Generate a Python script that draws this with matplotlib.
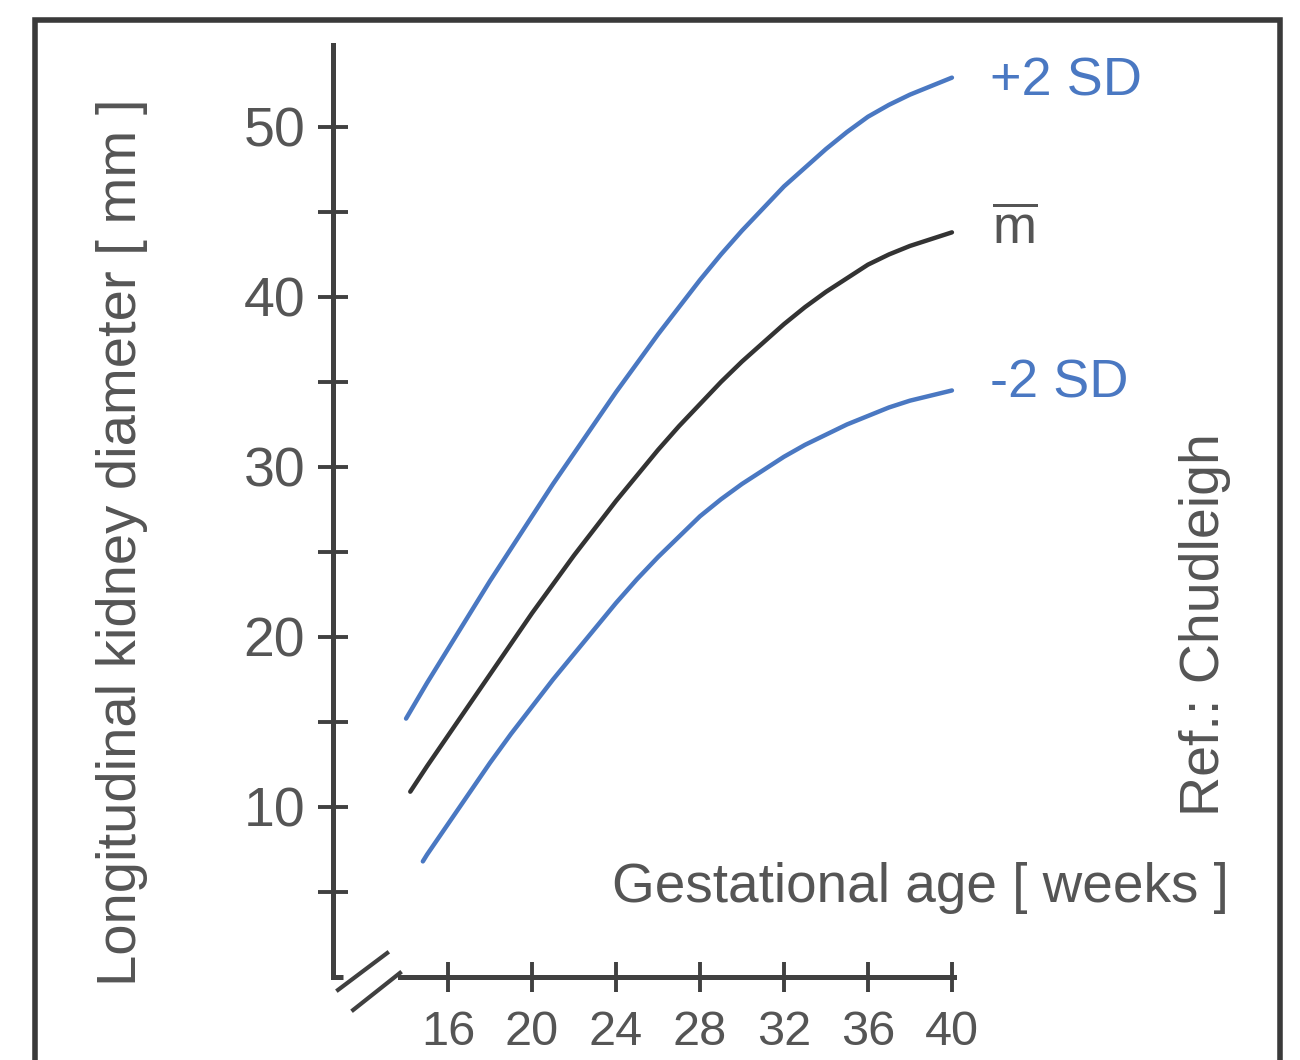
import numpy as np
import matplotlib
matplotlib.use('Agg')
import matplotlib.pyplot as plt
from matplotlib.patches import Rectangle

plt.rcParams['font.family'] = ['Liberation Sans', 'DejaVu Sans']
plt.rcParams['mathtext.fontset'] = 'custom'
plt.rcParams['mathtext.rm'] = 'Liberation Sans'

# data (gestational age in weeks, kidney length in mm)
weeks = list(range(15, 41))
weeks_upper = [14.0] + weeks
weeks_mean = [14.2] + weeks
weeks_lower = [14.8] + weeks
upper_2sd = [15.2, 17.3, 19.3, 21.3, 23.3, 25.2, 27.1, 29.0, 30.8, 32.6, 34.4,
             36.1, 37.8, 39.4, 41.0, 42.5, 43.9, 45.2, 46.5, 47.6, 48.7, 49.7,
             50.6, 51.3, 51.9, 52.4, 52.9]
mean_m = [10.9, 12.4, 14.2, 16.0, 17.8, 19.6, 21.4, 23.1, 24.8, 26.4, 28.0,
          29.5, 31.0, 32.4, 33.7, 35.0, 36.2, 37.3, 38.4, 39.4, 40.3, 41.1,
          41.9, 42.5, 43.0, 43.4, 43.8]
lower_2sd = [6.8, 7.2, 9.0, 10.8, 12.6, 14.3, 15.9, 17.5, 19.0, 20.5, 22.0,
             23.4, 24.7, 25.9, 27.1, 28.1, 29.0, 29.8, 30.6, 31.3, 31.9, 32.5,
             33.0, 33.5, 33.9, 34.2, 34.5]

x_ticks = [16, 20, 24, 28, 32, 36, 40]
y_major = [10, 20, 30, 40, 50]
y_minor = [5, 15, 25, 35, 45]

blue = '#4a78c2'
dark = '#333333'
axis_col = '#404040'
text_col = '#555555'

W, H = 1300, 1060


def fx(px):
    return px / W


def fy(py):
    return 1 - py / H


fig = plt.figure(figsize=(13, 10.6), dpi=100)
ax = fig.add_axes([fx(333), fy(977), fx(1000) - fx(333), fy(45) - fy(977)])
ax.set_xlim(10.52, 42.29)
ax.set_ylim(0, 54.82)

line_kw = dict(lw=3.2, solid_capstyle='round', solid_joinstyle='round')
ax.plot(weeks_upper, upper_2sd, color=blue, **line_kw)
ax.plot(weeks_mean, mean_m, color=dark, **line_kw)
ax.plot(weeks_lower, lower_2sd, color=blue, **line_kw)

for s in ['top', 'right']:
    ax.spines[s].set_visible(False)
ax.spines['left'].set_linewidth(3.6)
ax.spines['left'].set_color(axis_col)
ax.spines['bottom'].set_linewidth(3.6)
ax.spines['bottom'].set_color(axis_col)
ax.spines['bottom'].set_bounds(13.7, 40.1)

ax.set_xticks(x_ticks)
ax.set_yticks(y_major)
ax.set_yticks(y_minor, minor=True)
ax.tick_params(axis='both', which='both', direction='inout', length=22,
               width=2.8, color=axis_col, labelcolor=text_col)
ax.tick_params(axis='y', labelsize=40, pad=9)
ax.tick_params(axis='x', labelsize=35, pad=13)

# axis break at the origin
ax.plot([10.52, 11.0], [0, 0], color=axis_col, lw=3.6, clip_on=False,
        solid_capstyle='butt')
ax.plot([10.76, 13.10], [-0.76, 1.41], color=axis_col, lw=3, clip_on=False)
ax.plot([11.48, 13.71], [-1.94, 0.24], color=axis_col, lw=3, clip_on=False)

# series labels
fig.text(fx(990), fy(96), '+2 SD', color=blue, fontsize=39, va='baseline')
fig.text(fx(992), fy(244), r'$\overline{\mathrm{m}}$', color=text_col,
         fontsize=38, va='baseline')
fig.text(fx(990), fy(398), '-2 SD', color=blue, fontsize=39, va='baseline')

fig.text(fx(612), fy(902), 'Gestational age [ weeks ]', color=text_col,
         fontsize=39.5, va='baseline')
fig.text(fx(122), fy(542), 'Longitudinal kidney diameter [ mm ]',
         color=text_col, fontsize=40.5, rotation=90, ha='center', va='center')
fig.text(fx(1205), fy(625), 'Ref.: Chudleigh', color=text_col, fontsize=40,
         rotation=90, ha='center', va='center')

# frame around the figure
fig.patches.append(Rectangle((fx(35), fy(1075)), fx(1280) - fx(35),
                             fy(20) - fy(1075), transform=fig.transFigure,
                             fill=False, edgecolor='#3a3a3a', lw=4))

fig.savefig('out.png', dpi=100)
